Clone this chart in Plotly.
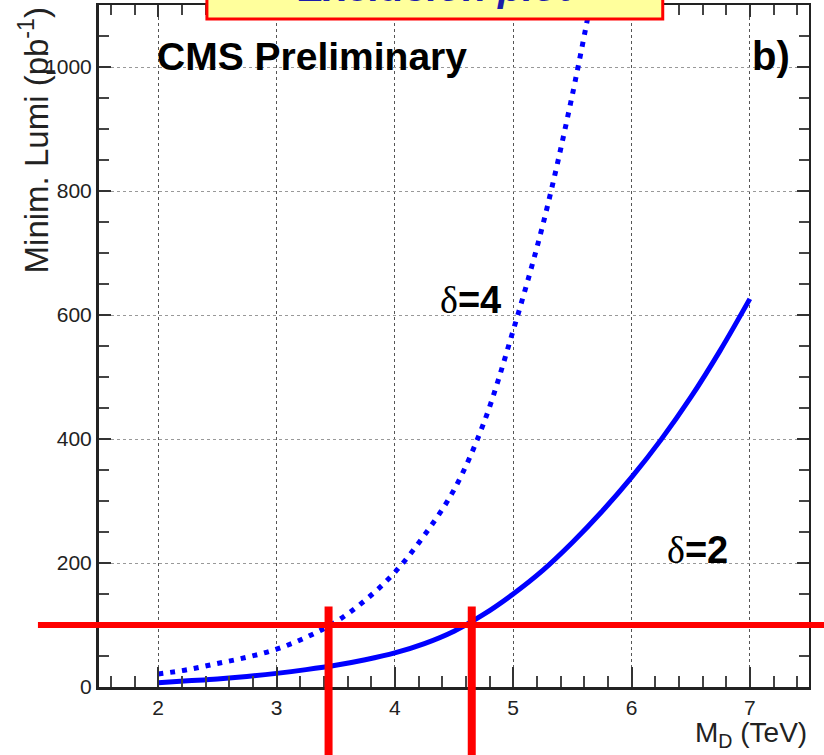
import plotly.graph_objects as go

# Minimum integrated luminosity needed vs. fundamental scale M_D
md_delta2 = [2.0, 2.25, 2.5, 2.75, 3.0, 3.25, 3.5, 3.75, 4.0, 4.25, 4.5, 4.75,
             5.0, 5.25, 5.5, 5.75, 6.0, 6.25, 6.5, 6.75, 7.0]
lumi_delta2 = [7, 10, 13, 17, 22, 28, 35, 44, 55, 70, 90, 117,
               150, 188, 233, 283, 338, 399, 467, 543, 626]

md_delta4 = [2.0, 2.25, 2.5, 2.75, 3.0, 3.25, 3.5, 3.75, 4.0, 4.25, 4.5, 4.75,
             5.0, 5.25, 5.5, 5.75]
lumi_delta4 = [21, 28, 38, 48, 61, 80, 105, 140, 185, 245, 318, 425,
               575, 745, 955, 1200]

# Luminosity threshold and the corresponding M_D reach
lumi_threshold = 100
md_limits = [3.44, 4.65]

x_range = [1.5, 7.5]
y_range = [0, 1100]
x_ticks = [2, 3, 4, 5, 6, 7]
y_ticks = [0, 200, 400, 600, 800, 1000]

FONT = "Liberation Sans, Arial, Helvetica, sans-serif"
BLUE = "#0000ff"
RED = "#ff0000"
TICK_SIZE = 21

fig = go.Figure()

fig.add_trace(go.Scatter(
    x=md_delta4, y=lumi_delta4, mode="lines",
    line=dict(color=BLUE, width=5, dash="5px,7px", shape="spline", smoothing=1.0),
    showlegend=False, hoverinfo="skip",
))
fig.add_trace(go.Scatter(
    x=md_delta2, y=lumi_delta2, mode="lines",
    line=dict(color=BLUE, width=5, shape="spline", smoothing=1.0),
    showlegend=False, hoverinfo="skip",
))
# companion axes for the top/right frame ticks
fig.add_trace(go.Scatter(x=[], y=[], xaxis="x2", yaxis="y2",
                         showlegend=False, hoverinfo="skip"))

axis_common = dict(
    showline=True, linecolor="#222", zeroline=False,
    ticks="inside", tickcolor="#333",
)

fig.update_layout(
    width=824, height=755,
    margin=dict(l=99, r=15, t=5, b=68),
    paper_bgcolor="white", plot_bgcolor="white",
    font=dict(family=FONT, color="#222", size=TICK_SIZE),
    xaxis=dict(
        range=x_range, tickvals=x_ticks, ticktext=[str(v) for v in x_ticks],
        linewidth=3, ticklen=20, tickwidth=1.5,
        tickfont=dict(size=TICK_SIZE, family=FONT, color="#222"),
        showgrid=True, gridcolor="#555", griddash="dot", gridwidth=1.3,
        minor=dict(dtick=0.2, tick0=0, ticks="inside", ticklen=11,
                   tickcolor="#444", tickwidth=1.5, showgrid=False),
        **axis_common,
    ),
    yaxis=dict(
        range=y_range, tickvals=y_ticks, ticktext=[str(v) for v in y_ticks],
        linewidth=3, ticklen=12, tickwidth=1.5,
        tickfont=dict(size=TICK_SIZE, family=FONT, color="#222"),
        showgrid=True, gridcolor="#999", griddash="dot", gridwidth=1.2,
        minor=dict(dtick=50, tick0=0, ticks="inside", ticklen=10,
                   tickcolor="#444", tickwidth=1.5, showgrid=False),
        **axis_common,
    ),
    xaxis2=dict(
        overlaying="x", side="top", range=x_range, tickvals=x_ticks,
        showticklabels=False, showgrid=False, linewidth=2, ticklen=12, tickwidth=1.5,
        minor=dict(dtick=0.2, tick0=0, ticks="inside", ticklen=10,
                   tickcolor="#444", tickwidth=1.5, showgrid=False),
        **axis_common,
    ),
    yaxis2=dict(
        overlaying="y", side="right", range=y_range, tickvals=y_ticks,
        showticklabels=False, showgrid=False, linewidth=2, ticklen=12, tickwidth=1.5,
        minor=dict(dtick=50, tick0=0, ticks="inside", ticklen=10,
                   tickcolor="#444", tickwidth=1.5, showgrid=False),
        **axis_common,
    ),
)

# red threshold lines (drawn over the curves, extending past the frame)
fig.add_shape(type="line", xref="paper", yref="y",
              x0=-0.086, x1=1.05, y0=lumi_threshold, y1=lumi_threshold,
              line=dict(color=RED, width=6), layer="above")
for md in md_limits:
    fig.add_shape(type="line", xref="x", yref="paper",
                  x0=md, x1=md, y0=-0.12, y1=130 / y_range[1],
                  line=dict(color=RED, width=8), layer="above")

# title box at the top of the frame
fig.add_shape(type="rect", xref="paper", yref="paper",
              x0=0.152, x1=0.794, y0=0.9795, y1=1.2,
              fillcolor="#ffff9c", line=dict(color=RED, width=3), layer="above")
fig.add_annotation(xref="paper", yref="paper", x=0.474, y=0.9912,
                   xanchor="center", yanchor="bottom", showarrow=False,
                   text="<b><i>Exclusion plot</i></b>",
                   font=dict(size=40, family=FONT, color="#1c1ca8"))

# axis titles
fig.add_annotation(xref="paper", yref="paper", x=-0.091, y=1.0,
                   xanchor="center", yanchor="top", textangle=-90, showarrow=False,
                   text="Minim. Lumi (pb<sup>-1</sup>)",
                   font=dict(size=33, family=FONT, color="#222"))
fig.add_annotation(xref="paper", yref="paper", x=1.0, y=-0.07,
                   xanchor="right", yanchor="middle", showarrow=False,
                   text="M<sub>D</sub> (TeV)",
                   font=dict(size=28, family=FONT, color="#222"))

# in-frame labels
fig.add_annotation(xref="x", yref="y", x=1.975, y=1017, xanchor="left", yanchor="middle",
                   showarrow=False, text="<b>CMS Preliminary</b>",
                   font=dict(size=39, family=FONT, color="black"))
fig.add_annotation(xref="x", yref="y", x=7.0, y=1017, xanchor="left", yanchor="middle",
                   showarrow=False, text="<b>b)</b>",
                   font=dict(size=40, family=FONT, color="black"))
delta = "<span style='font-family:Liberation Serif'>\u03b4</span>"
fig.add_annotation(xref="x", yref="y", x=4.636, y=624, xanchor="center", yanchor="middle",
                   showarrow=False, text=delta + "<b>=4</b>",
                   font=dict(size=38, family=FONT, color="black"))
fig.add_annotation(xref="x", yref="y", x=6.555, y=221, xanchor="center", yanchor="middle",
                   showarrow=False, text=delta + "<b>=2</b>",
                   font=dict(size=38, family=FONT, color="black"))

fig.write_html("out.html")
